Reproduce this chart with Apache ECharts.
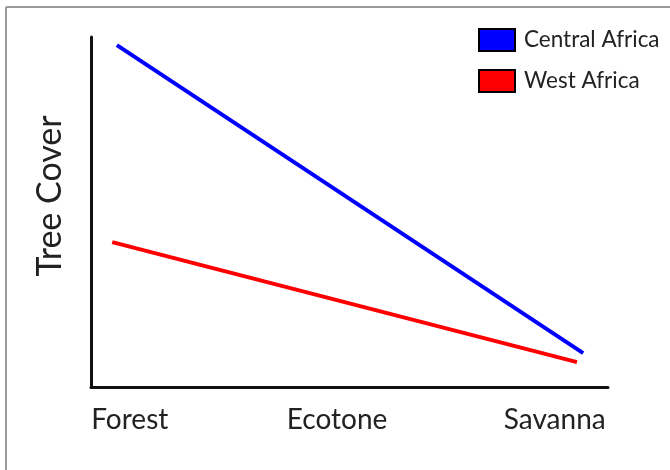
<!DOCTYPE html>
<html>
<head>
<meta charset="utf-8">
<script src="https://cdn.jsdelivr.net/npm/echarts@6/dist/echarts.min.js"></script>
<style>
html,body{margin:0;padding:0;background:#fff;}
#c{width:670px;height:470px;}
</style>
</head>
<body>
<div id="c"></div>
<script>
// Category labels and their positions along the (hidden) 0-100 x scale
const categories = ['Forest', 'Ecotone', 'Savanna'];
const categoryPositions = [7.5, 47.6, 89.7];
// Series values (x position on 0-100 scale, tree cover on 0-100 scale)
const centralAfricaX = [5.0, 95.2];
const centralAfricaY = [97.7, 9.7];
const westAfricaX = [4.1, 94.0];
const westAfricaY = [41.4, 7.1];
const seriesNames = ['Central Africa', 'West Africa'];
const yAxisTitle = 'Tree Cover';

const chart = echarts.init(document.getElementById('c'), null, {renderer: 'canvas'});
const pair = (xs, ys) => xs.map((x, i) => [x, ys[i]]);
const FONT = 'Lato';

chart.setOption({
  animation: false,
  backgroundColor: '#fff',
  grid: {left: 91, top: 37, width: 517, height: 350, containLabel: false},
  xAxis: {
    type: 'value', min: 0, max: 100,
    axisLine: {show: true, lineStyle: {color: '#111', width: 3}},
    axisTick: {show: false},
    splitLine: {show: false},
    axisLabel: {
      customValues: categoryPositions,
      formatter: v => { const i = categoryPositions.indexOf(v); return i >= 0 ? categories[i] : ''; },
      color: '#222', fontFamily: FONT, fontSize: 28, margin: 19
    }
  },
  yAxis: {
    type: 'value', min: 0, max: 100,
    axisLine: {show: true, lineStyle: {color: '#111', width: 3}},
    axisTick: {show: false},
    splitLine: {show: false},
    axisLabel: {show: false}
  },
  legend: {
    orient: 'vertical', left: 478, top: 28, padding: 0,
    icon: 'rect', itemWidth: 36, itemHeight: 22, itemGap: 17,
    itemStyle: {borderColor: '#000', borderWidth: 2},
    textStyle: {color: '#222', fontFamily: FONT, fontSize: 22.5, padding: [0, 0, 0, 4]},
    data: seriesNames
  },
  graphic: [
    {type: 'line', shape: {x1: 6, y1: 7, x2: 670, y2: 7}, style: {stroke: '#999', lineWidth: 2}},
    {type: 'line', shape: {x1: 6, y1: 7, x2: 6, y2: 470}, style: {stroke: '#999', lineWidth: 2}},
    {type: 'text', x: 50, y: 196, rotation: Math.PI / 2,
      style: {text: yAxisTitle, fontFamily: FONT, fontSize: 34, fill: '#222', align: 'center', verticalAlign: 'middle'}}
  ],
  series: [
    {name: seriesNames[0], type: 'line', data: pair(centralAfricaX, centralAfricaY),
      symbol: 'none', color: '#0000ff', lineStyle: {color: '#0000ff', width: 4}},
    {name: seriesNames[1], type: 'line', data: pair(westAfricaX, westAfricaY),
      symbol: 'none', color: '#ff0000', lineStyle: {color: '#ff0000', width: 4}}
  ]
});
</script>
</body>
</html>
